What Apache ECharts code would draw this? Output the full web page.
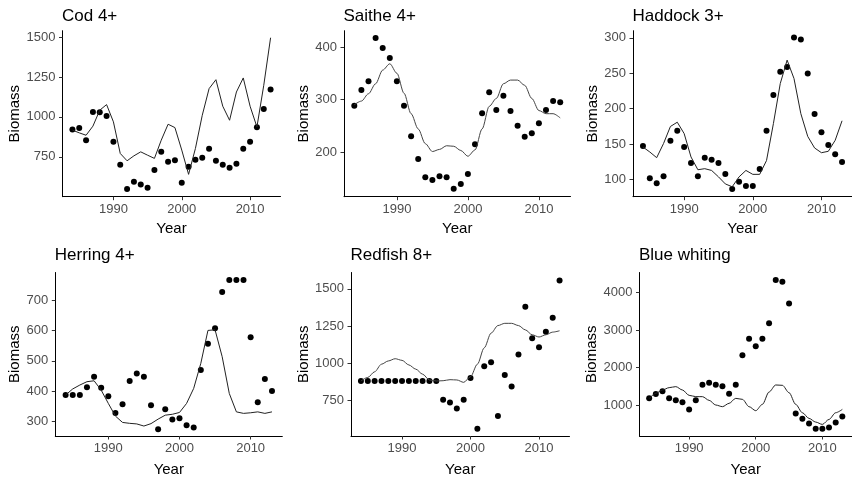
<!DOCTYPE html>
<html>
<head>
<meta charset="utf-8">
<script src="https://cdn.jsdelivr.net/npm/echarts@6/dist/echarts.min.js"></script>
<style>
html,body{margin:0;padding:0;background:#fff;}
#c{width:852px;height:479px;}
</style>
</head>
<body>
<div id="c"></div>
<script>
const years = [1984,1985,1986,1987,1988,1989,1990,1991,1992,1993,1994,1995,1996,1997,1998,1999,2000,2001,2002,2003,2004,2005,2006,2007,2008,2009,2010,2011,2012,2013];
const xTicks = [1990, 2000, 2010];

const panelTitles = ['Cod 4+', 'Saithe 4+', 'Haddock 3+', 'Herring 4+', 'Redfish 8+', 'Blue whiting'];

const codObs = [921,931,854,1031,1029,1006,844,700,548,594,577,556,667,781,719,729,587,688,731,744,800,725,700,681,706,800,844,935,1050,1171];
const codFit = [917,900,885,942,1042,1077,969,771,725,756,781,760,740,854,954,933,792,640,802,1010,1177,1233,1067,979,1156,1244,1067,937,1198,1496];
const codTicks = [750, 1000, 1250, 1500];

const saitheObs = [288,318,335,417,398,379,335,288,230,187,152,147,154,152,130,139,158,215,274,314,280,307,278,250,229,236,255,280,297,295];
const saitheFit = [290,297,311,330,356,368,350,312,273,244,216,201,205,212,211,203,192,204,244,287,302,330,337,337,327,302,279,273,273,265];
const saitheTicks = [200, 300, 400];

const haddockObs = [147.5,102,95,105,155,169,146,123.5,105,131,128,123.5,108,87,97,91,91,115,169,219.5,252,259,300.5,297.6,249.6,192.7,167,149,136,125];
const haddockFit = [146,139,131,151,175,181,165,132,114,115.5,113,104,94,90,104,113,107.5,107.5,127,179,235.5,268.5,242.6,193,161,144.7,138,140,155.5,183];
const haddockTicks = [100, 150, 200, 250, 300];

const herringObs = [387,387,387,413,447,411,383,327,356,433,458,447,353,273,340,306,310,287,279,470,557,608,728,768,768,768,578,363,440,400];
const herringFit = [387,407,420,431,434,403,359,317,296,293,291,284,292,307,320,323,329,359,409,492,601,603,514,392,331,326,328,331,326,331];
const herringTicks = [300, 400, 500, 600, 700];

const redfishObs = [880,880,880,880,880,880,880,880,880,880,880,880,754,735,695,754,900,558,979,1006,644,920,843,1059,1379,1167,1107,1211,1306,1557];
const redfishFit = [880,904,942,993,1015,1030,1019,988,960,926,887,880,882,889,887,871,909,993,1103,1202,1253,1268,1268,1253,1224,1191,1176,1191,1209,1218];
const redfishTicks = [750, 1000, 1250, 1500];

const blueObs = [1178,1294,1365,1178,1125,1071,884,1125,1543,1596,1543,1498,1303,1543,2326,2763,2567,2763,3181,4329,4285,3706,777,635,510,368,368,404,537,697];
const blueFit = [1169,1312,1400,1463,1490,1400,1258,1223,1223,1125,1000,956,1045,1178,1151,956,849,1018,1347,1534,1525,1329,1018,795,644,546,484,617,795,884];
const blueTicks = [1000, 2000, 3000, 4000];

const FONT = '"Liberation Sans", Arial, sans-serif';

const panels = [
  {obs: codObs, fit: codFit, ticks: codTicks, ymin: 500, ymax: 1540, left: 62.5, top: 30.7, width: 218, height: 166, yGap: 40, xGap: 25, smooth: false, lc: '#222'},
  {obs: saitheObs, fit: saitheFit, ticks: saitheTicks, ymin: 115, ymax: 431, left: 344, top: 30.7, width: 226.5, height: 166, yGap: 33, xGap: 25, smooth: 0.3, lc: '#444'},
  {obs: haddockObs, fit: haddockFit, ticks: haddockTicks, ymin: 76, ymax: 310, left: 633, top: 30.7, width: 227, height: 166, yGap: 33, xGap: 25, smooth: false, lc: '#222'},
  {obs: herringObs, fit: herringFit, ticks: herringTicks, ymin: 251, ymax: 793, left: 55.3, top: 272.5, width: 227, height: 163.5, yGap: 33, xGap: 26, smooth: false, lc: '#222'},
  {obs: redfishObs, fit: redfishFit, ticks: redfishTicks, ymin: 510, ymax: 1610, left: 351, top: 272.5, width: 218.5, height: 163.5, yGap: 40, xGap: 26, smooth: 0.3, lc: '#444'},
  {obs: blueObs, fit: blueFit, ticks: blueTicks, ymin: 175, ymax: 4530, left: 639.5, top: 272.5, width: 219.5, height: 163.5, yGap: 39.5, xGap: 26, smooth: 0.3, lc: '#222'}
];

const plain = v => String(Math.round(v));

const grid = [], xAxis = [], yAxis = [], series = [], title = [];
panels.forEach((p, i) => {
  grid.push({left: p.left, top: p.top, width: p.width, height: p.height, containLabel: false});
  title.push({
    text: panelTitles[i], left: p.left - 0.5, top: (i < 3 ? 7.5 : 246.5), padding: 0,
    textStyle: {fontFamily: FONT, fontSize: 17, fontWeight: 'normal', color: '#000'}
  });
  xAxis.push({
    type: 'value', gridIndex: i, min: 1982.55, max: 2014.45,
    name: 'Year', nameLocation: 'middle', nameGap: p.xGap,
    nameTextStyle: {fontFamily: FONT, fontSize: 15, color: '#000'},
    axisLine: {show: true, onZero: false, lineStyle: {color: '#000', width: 1}},
    axisTick: {show: true, length: 3.5, lineStyle: {color: '#333'}, customValues: xTicks},
    axisLabel: {fontFamily: FONT, fontSize: 13, color: '#4D4D4D', margin: 6, customValues: xTicks, formatter: plain},
    splitLine: {show: false}
  });
  yAxis.push({
    type: 'value', gridIndex: i, min: p.ymin, max: p.ymax,
    name: 'Biomass', nameLocation: 'middle', nameGap: p.yGap, nameRotate: 90,
    nameTextStyle: {fontFamily: FONT, fontSize: 15, color: '#000'},
    axisLine: {show: true, onZero: false, lineStyle: {color: '#000', width: 1}},
    axisTick: {show: true, length: 3.5, lineStyle: {color: '#333'}, customValues: p.ticks},
    axisLabel: {fontFamily: FONT, fontSize: 13, color: '#4D4D4D', margin: 7, customValues: p.ticks, formatter: plain},
    splitLine: {show: false}
  });
  series.push({
    type: 'line', xAxisIndex: i, yAxisIndex: i,
    data: years.map((y, k) => [y, p.fit[k]]),
    showSymbol: false, symbol: 'none', smooth: p.smooth, smoothMonotone: 'x',
    lineStyle: {color: p.lc, width: 1}, silent: true, animation: false
  });
  series.push({
    type: 'scatter', xAxisIndex: i, yAxisIndex: i,
    data: years.map((y, k) => [y, p.obs[k]]),
    symbolSize: 6, itemStyle: {color: '#000', opacity: 1}, silent: true, animation: false
  });
});

const chart = echarts.init(document.getElementById('c'), null, {renderer: 'canvas'});
chart.setOption({animation: false, backgroundColor: '#fff', title, grid, xAxis, yAxis, series});
</script>
</body>
</html>
